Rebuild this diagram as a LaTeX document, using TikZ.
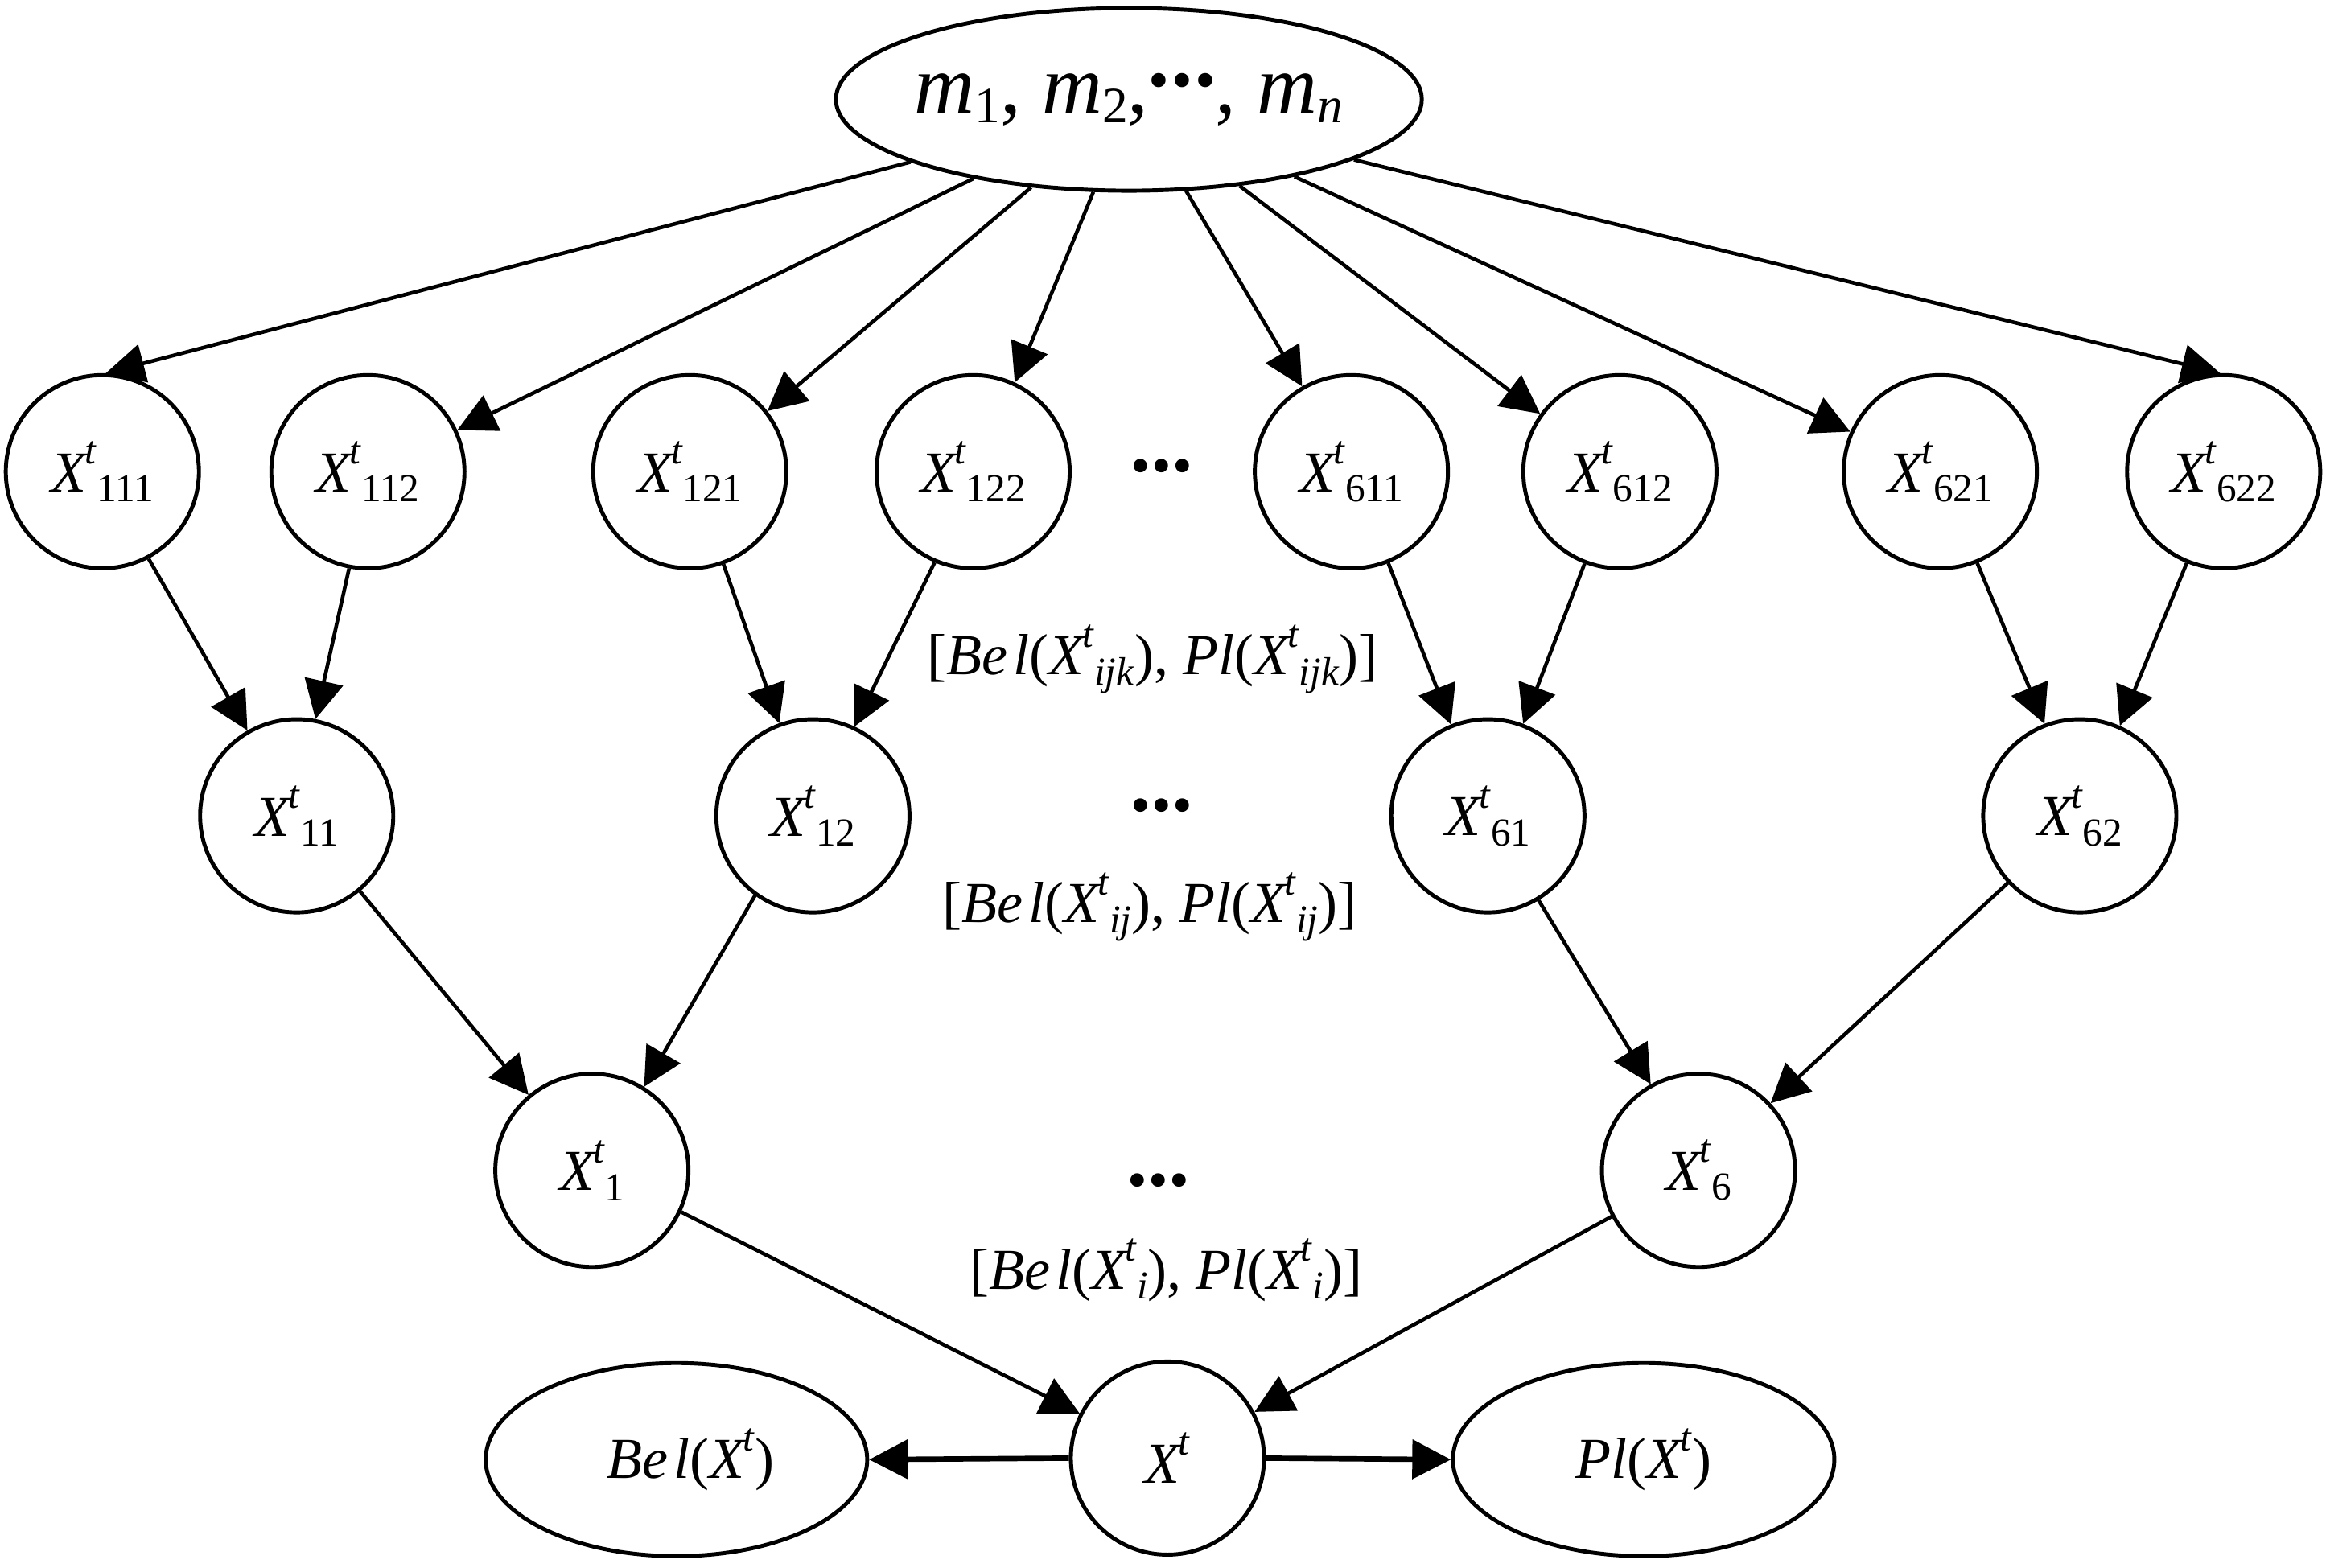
\documentclass[tikz,border=0pt]{standalone}
\usepackage{fontspec}
\setmainfont{Liberation Serif}
\usetikzlibrary{arrows.meta,shapes.geometric}

\newcommand{\sbx}[1]{{\fontsize{14}{14}\selectfont #1}}
\newcommand{\Xt}[1]{\textit{X}\kern-0.06em\raisebox{0.48em}{\sbx{\textit{t}}}\raisebox{-0.17em}{\sbx{#1}}}
\newcommand{\XT}{\textit{X}\kern-0.06em\raisebox{0.48em}{\sbx{\textit{t}}}}
\newcommand{\Bl}{\textit{Be\kern0.1em l}}
\newcommand{\Pll}{\textit{Pl}}
\newcommand{\dotrow}{{\fontsize{20}{20}\selectfont\textbullet\kern0.4pt\textbullet\kern0.4pt\textbullet}}
\newcommand{\msub}[1]{\raisebox{-0.12em}{\fontsize{18}{18}\selectfont #1}}
\newcommand{\topdots}{\raisebox{4.5pt}{\fontsize{21}{21}\selectfont\textbullet\kern0.8pt\textbullet\kern0.8pt\textbullet}}

\begin{document}
\begin{tikzpicture}[x=0.018438cm,y=-0.018438cm,
  every node/.style={font=\fontsize{20.5}{24}\selectfont},
  cnode/.style={circle,draw,line width=1.4pt,minimum size=2.40cm,inner sep=0pt},
  enode/.style={ellipse,draw,line width=1.4pt,inner sep=0pt},
  arr/.style={line width=1.3pt,-{Triangle[length=0.48cm,width=0.48cm]}},
  harr/.style={arr,line width=1.9pt},
  lbl/.style={inner sep=0pt}]
\useasboundingbox (0,0) rectangle (1568,1057);

% top ellipse
\node[enode,minimum width=7.28cm,minimum height=2.27cm,font=\fontsize{29.5}{31}\selectfont] (top) at (761,67)
  {\makebox[0pt]{\textit{m}\msub{1}, \textit{m}\msub{2},\topdots, \textit{m}\msub{\textit{n}}}};

% row 1
\node[cnode] (x111) at (69,318) {\Xt{111}};
\node[cnode] (x112) at (248,318) {\Xt{112}};
\node[cnode] (x121) at (465,318) {\Xt{121}};
\node[cnode] (x122) at (656,318) {\Xt{122}};
\node[cnode] (x611) at (911,318) {\Xt{611}};
\node[cnode] (x612) at (1092,318) {\Xt{612}};
\node[cnode] (x621) at (1308,318) {\Xt{621}};
\node[cnode] (x622) at (1499,318) {\Xt{622}};

% row 2
\node[cnode] (x11) at (200,550) {\Xt{11}};
\node[cnode] (x12) at (548,550) {\Xt{12}};
\node[cnode] (x61) at (1003,550) {\Xt{61}};
\node[cnode] (x62) at (1402,550) {\Xt{62}};

% row 3
\node[cnode] (x1) at (399,789) {\Xt{1}};
\node[cnode] (x6) at (1145,789) {\Xt{6}};

% row 4
\node[cnode] (xt) at (787,983) {\XT};
\node[enode,minimum width=4.74cm,minimum height=2.40cm] (bel) at (456,984) {\kern0.35cm\Bl(\XT)};
\node[enode,minimum width=4.74cm,minimum height=2.40cm] (pl) at (1108,984) {\Pll(\XT)};

% dots and labels
\node[lbl] (d1) at (783,318) {\dotrow};
\node[lbl] (d2) at (783,547) {\dotrow};
\node[lbl] (d3) at (781,800) {\dotrow};
\node[lbl,anchor=base] (l1) at (777,455) {[\Bl(\Xt{\textit{ijk}}), \Pll(\Xt{\textit{ijk}})]};
\node[lbl,anchor=base] (l2) at (775,622) {[\Bl(\Xt{\textit{ij}}), \Pll(\Xt{\textit{ij}})]};
\node[lbl,anchor=base] (l3) at (786,869) {[\Bl(\Xt{\textit{i}}), \Pll(\Xt{\textit{i}})]};

% arrows from top
\draw[arr] (top.196) -- (x111.88);
\draw[arr] (top.207) -- (x112.25);
\draw[arr] (top.222) -- (x121.38);
\draw[arr] (top.249) -- (x122.65);
\draw[arr] (top.302) -- (x611.120);
\draw[arr] (top.322) -- (x612.144);
\draw[arr] (top.335) -- (x621.156);
\draw[arr] (top.345.5) -- (x622.92);

% row1 -> row2
\draw[arr] (x111.298) -- (x11.120);
\draw[arr] (x112.259) -- (x11.79);
\draw[arr] (x121.290) -- (x12.110);
\draw[arr] (x122.247) -- (x12.65);
\draw[arr] (x611.292) -- (x61.112);
\draw[arr] (x612.249) -- (x61.69);
\draw[arr] (x621.292) -- (x62.111);
\draw[arr] (x622.248) -- (x62.66);

% row2 -> row3
\draw[arr] (x11.310) -- (x1.130);
\draw[arr] (x12.234) -- (x1.58);
\draw[arr] (x61.301) -- (x6.119);
\draw[arr] (x62.223) -- (x6.43);

% row3 -> xt
\draw[arr] (x1.335) -- (xt.153);
\draw[arr] (x6.208) -- (xt.28);

% xt -> bel, pl
\draw[harr] (xt.west) -- (bel.east);
\draw[harr] (xt.east) -- (pl.west);
\end{tikzpicture}
\end{document}
